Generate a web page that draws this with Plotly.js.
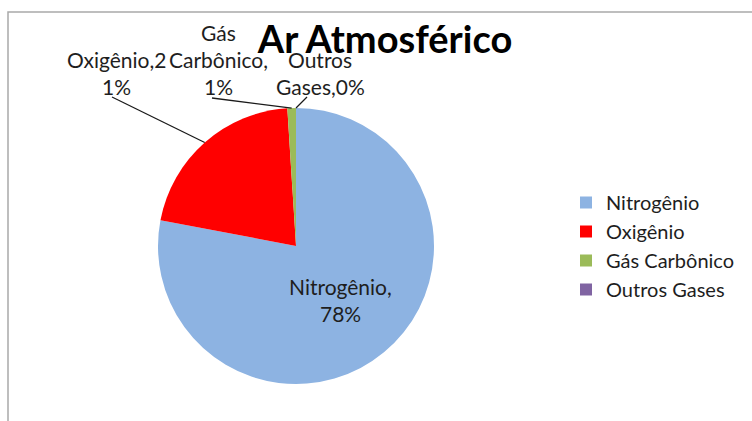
<!DOCTYPE html>
<html>
<head>
<meta charset="utf-8">
<script src="https://cdn.plot.ly/plotly-3.0.1.min.js"></script>
<style>
  html, body { margin: 0; padding: 0; background: #ffffff; }
  #chart { width: 752px; height: 421px; }
</style>
</head>
<body>
<div id="chart"></div>
<script>
// Composition of atmospheric air (percent)
const gases = ["Nitrogênio", "Oxigênio", "Gás Carbônico", "Outros Gases"];
const percents = [78, 21, 1, 0];
const sliceColors = ["#8DB3E2", "#FF0000", "#9BBB59", "#8064A2"];

// Data-label lines as they wrap on the chart
const labelLines = [
  ["Nitrogênio,", "78%"],
  ["Oxigênio,2", "1%"],
  ["Gás", "Carbônico,", "1%"],
  ["Outros", "Gases,0%"]
];

const W = 752, H = 421;
const FONT = "Lato, 'Open Sans', sans-serif";
const TEXT_COLOR = "#1e1e1e";

// Pie placement (pixels)
const pieCx = 296, pieCy = 246, pieR = 138;
const domain = {
  x: [(pieCx - pieR) / W, (pieCx + pieR) / W],
  y: [1 - (pieCy + pieR) / H, 1 - (pieCy - pieR) / H]
};

const px = x => x / W;
const py = y => 1 - y / H;

// Angles of each slice, clockwise from 12 o'clock
const total = percents.reduce((a, b) => a + b, 0);
const midAngles = [];
let cum = 0;
percents.forEach(v => {
  midAngles.push((cum + v / 2) / total * 2 * Math.PI);
  cum += v;
});
const polar = (ang, frac) => ({
  x: pieCx + pieR * frac * Math.sin(ang),
  y: pieCy - pieR * frac * Math.cos(ang)
});

// Where the outside labels sit (center x, first-line center y) and where their leader lines start
const outsideLabelPos = [null, {x: 116, y: 59}, {x: 218, y: 32}, {x: 320, y: 59}];
const leaderStart = [null, {x: 112, y: 97}, {x: 212, y: 98}, {x: 307, y: 97}];
const LINE_PITCH = 27;

const annotations = [];
const shapes = [];

labelLines.forEach((lines, i) => {
  let cx, cy0;
  if (i === 0) {
    const p = polar(midAngles[i], 0.51);
    cx = p.x;
    cy0 = p.y - LINE_PITCH * (lines.length - 1) / 2;
  } else {
    cx = outsideLabelPos[i].x;
    cy0 = outsideLabelPos[i].y;
  }
  lines.forEach((ln, k) => {
    annotations.push({
      xref: "paper", yref: "paper",
      x: px(cx), y: py(cy0 + k * LINE_PITCH),
      xanchor: "center", yanchor: "middle",
      text: ln, showarrow: false,
      font: {family: FONT, size: 21, color: TEXT_COLOR}
    });
  });
  if (i > 0) {
    const tip = polar(midAngles[i], 1.0);
    shapes.push({
      type: "line", xref: "paper", yref: "paper",
      x0: px(leaderStart[i].x), y0: py(leaderStart[i].y),
      x1: px(tip.x), y1: py(tip.y),
      line: {color: "#1a1a1a", width: 1.3}
    });
  }
});

// Chart-area frame
shapes.push({
  type: "rect", xref: "paper", yref: "paper",
  x0: px(8), y0: -0.05, x1: 1.05, y1: py(12),
  line: {color: "#a9a9a9", width: 1.5},
  fillcolor: "rgba(0,0,0,0)", layer: "below"
});

const trace = {
  type: "pie",
  labels: gases,
  values: percents,
  marker: {colors: sliceColors, line: {width: 0}},
  sort: false,
  direction: "clockwise",
  rotation: 0,
  textinfo: "none",
  hoverinfo: "label+percent",
  domain: domain
};

const layout = {
  width: W, height: H,
  margin: {l: 0, r: 0, t: 0, b: 0},
  paper_bgcolor: "#ffffff",
  title: {
    text: "<b>Ar Atmosférico</b>",
    x: px(385), xanchor: "center",
    xref: "paper",
    y: 1 - 40 / H, yanchor: "middle", yref: "container",
    font: {family: FONT, size: 38, color: "#000000"}
  },
  showlegend: true,
  legend: {
    x: px(566), y: py(183), xanchor: "left", yanchor: "top",
    font: {family: FONT, size: 20, color: TEXT_COLOR},
    bgcolor: "rgba(0,0,0,0)"
  },
  annotations: annotations,
  shapes: shapes
};

Plotly.newPlot("chart", [trace], layout, {displayModeBar: false, staticPlot: true});
</script>
</body>
</html>
